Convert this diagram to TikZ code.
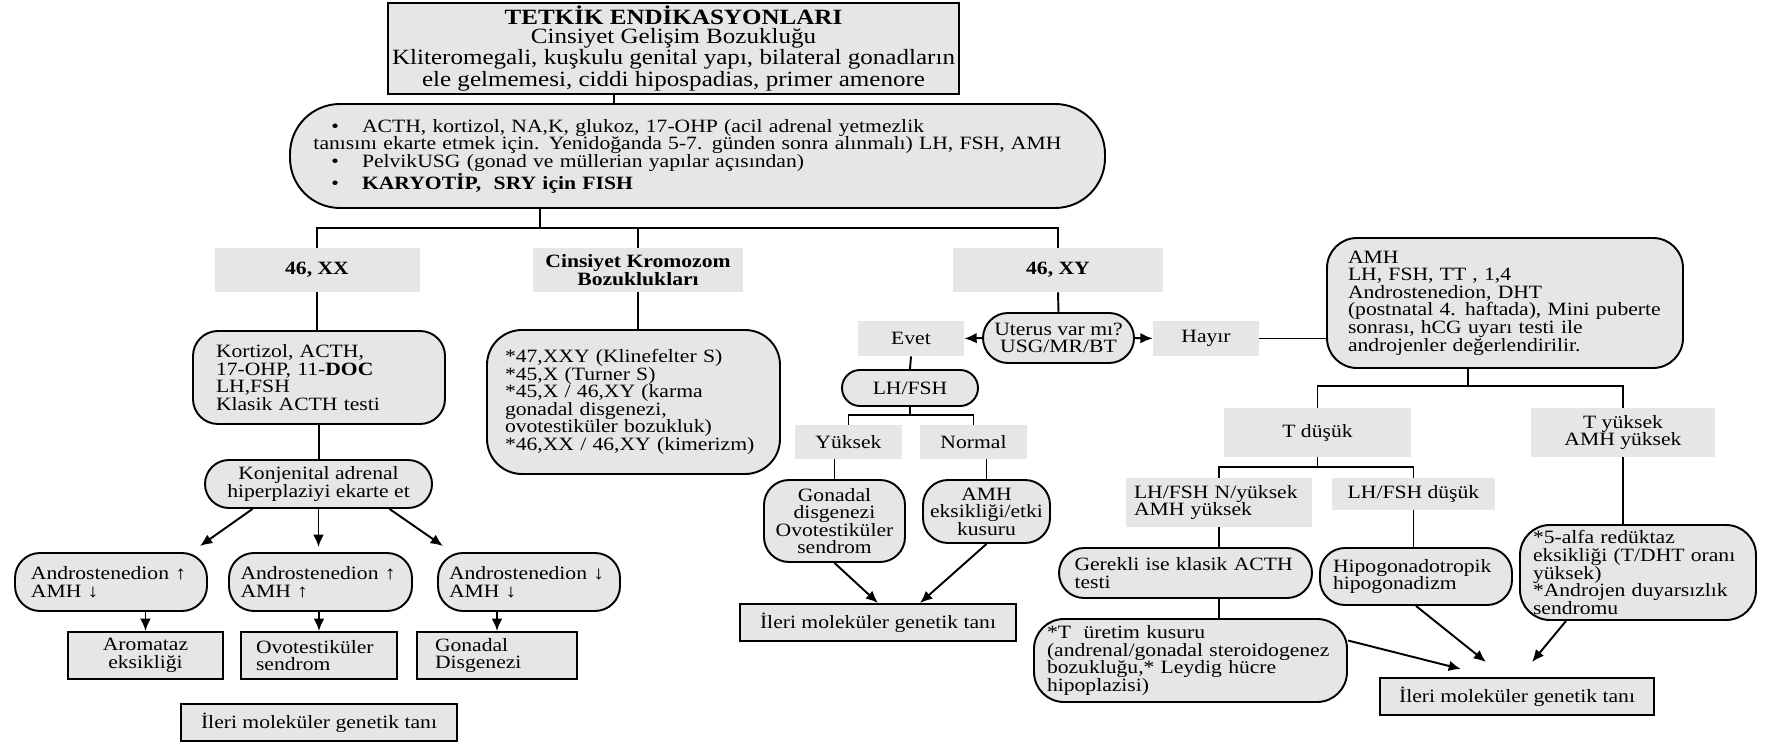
\documentclass[tikz,border=0pt]{standalone}
\usepackage{fontspec}
\setmainfont{Liberation Serif}[FakeStretch=1.15]
\usepackage{tikz}
\usetikzlibrary{arrows.meta,calc}
\definecolor{boxgray}{HTML}{E6E6E6}

\begin{document}
\begin{tikzpicture}[x=0.02cm, y=-0.02cm]
        \tikzset{txt/.style = {font=\fontsize{10.7}{10}\selectfont, inner sep=0pt},
          wh/.code 2 args = {\pgfmathsetmacro\whw{#1*0.02}\pgfmathsetmacro\whh{#2*0.02}%
            \edef\whset{\noexpand\tikzset{minimum width=\whw cm, minimum height=\whh cm}}\whset},
          tw/.code = {\pgfmathsetmacro\twv{#1*0.02}%
            \edef\twset{\noexpand\tikzset{align=left, text width=\twv cm}}\twset},
          lbl/.style = {txt, fill=boxgray},
          rbox/.style = {txt, draw, fill=boxgray, line width=1.1pt},
          rnd/.style = {rbox, rounded corners=#1},
          conn/.style = {line width=1.1pt},
          arr/.style = {conn, -{Latex[length=7pt,width=6pt]}}}
        \useasboundingbox (0,0) rectangle (1765,742);
        % top
        \node[rbox, wh={571}{91}, align=center, font=\fontsize{12.4}{10.4}\selectfont] (top) at (673.5,48.5)
          {\textbf{TETKİK ENDİKASYONLARI}\\Cinsiyet Gelişim Bozukluğu\\Kliteromegali, kuşkulu genital yapı, bilateral gonadların\\ele gelmemesi, ciddi hipospadias, primer amenore};
        \node[rnd=1cm, wh={815}{104}, tw=768] (tests) at (697.5,156)
          {\hspace*{0.36cm}•\hspace{0.46cm}ACTH, kortizol, NA,K, glukoz, 17-OHP (acil adrenal yetmezlik\\tanısını ekarte etmek için. Yenidoğanda 5-7. günden sonra alınmalı) LH, FSH, AMH\\\hspace*{0.36cm}•\hspace{0.46cm}PelvikUSG (gonad ve müllerian yapılar açısından)\\\hspace*{0.36cm}•\hspace{0.46cm}\textbf{KARYOTİP,\ \ SRY için FISH}};
        \node[lbl, wh={205}{44}] (xx) at (317,270) {\textbf{46, XX}};
        \node[lbl, wh={210}{44}, align=center] (ksk) at (638,270) {\textbf{Cinsiyet Kromozom}\\\textbf{Bozuklukları}};
        \node[lbl, wh={210}{44}] (xy) at (1058,270) {\textbf{46, XY}};
        % 46,XX
        \node[rnd=0.5cm, wh={252}{93}, tw=206] (kort) at (319,377.5) {Kortizol, ACTH,\\17-OHP, 11-\textbf{DOC}\\LH,FSH\\Klasik ACTH testi};
        \node[rnd=0.48cm, wh={227}{48}, align=center] (kah) at (318.5,484) {Konjenital adrenal\\hiperplaziyi ekarte et};
        \node[rnd=0.5cm, wh={192}{58}, tw=160] (a1) at (111,582) {Androstenedion ↑\\AMH ↓};
        \node[rnd=0.5cm, wh={183}{58}, tw=160] (a2) at (320.5,582) {Androstenedion ↑\\AMH ↑};
        \node[rnd=0.5cm, wh={182}{58}, tw=160] (a3) at (529,582) {Androstenedion ↓\\AMH ↓};
        \node[rbox, wh={155}{47}, align=center] (r1) at (145.5,655.5) {Aromataz\\eksikliği};
        \node[rbox, wh={156}{47}, tw=126] (r2) at (319,655.5) {Ovotestiküler\\sendrom};
        \node[rbox, wh={160}{47}, tw=124] (r3) at (497,655.5) {Gonadal\\Disgenezi};
        \node[rbox, wh={276}{37}] (ileri1) at (319,722.5) {İleri moleküler genetik tanı};
        % kromozom
        \node[rnd=0.7cm, wh={293}{144}, tw=257] (kskd) at (633.5,402)
          {*47,XXY (Klinefelter S)\\{}*45,X (Turner S)\\{}*45,X / 46,XY (karma\\gonadal disgenezi,\\ovotestiküler bozukluk)\\{}*46,XX / 46,XY (kimerizm)};
        % 46,XY
        \node[rnd=0.5cm, wh={151}{50}, align=center] (ut) at (1058.5,338) {Uterus var mı?\\USG/MR/BT};
        \node[lbl, wh={106}{35}] (evet) at (911,338.5) {Evet};
        \node[lbl, wh={106}{35}] (hayir) at (1206,338.5) {Hayır};
        \node[rnd=0.36cm, wh={136}{36}] (lhfsh) at (910,388) {LH/FSH};
        \node[lbl, wh={107}{34}] (yuk) at (848.5,442) {Yüksek};
        \node[lbl, wh={107}{34}] (nor) at (973.5,442) {Normal};
        \node[rnd=0.5cm, wh={141}{82}, align=center] (gon) at (834.5,521) {Gonadal\\disgenezi\\Ovotestiküler\\sendrom};
        \node[rnd=0.5cm, wh={127}{63}, align=center] (amhe) at (986.5,511.5) {AMH\\eksikliği/etki\\kusuru};
        \node[rbox, wh={276}{37}] (ileri2) at (878,622.5) {İleri moleküler genetik tanı};
        % uterus yok
        \node[rnd=0.6cm, wh={356}{130}, tw=314] (amh) at (1505,303)
          {AMH\\LH, FSH, TT , 1,4\\Androstenedion, DHT\\(postnatal 4. haftada), Mini puberte\\sonrası, hCG uyarı testi ile\\androjenler değerlendirilir.};
        \node[lbl, wh={187}{49}] (tdus) at (1317.5,432.5) {T düşük};
        \node[lbl, wh={184}{49}, align=center] (tyuk) at (1623,432.5) {T yüksek\\AMH yüksek};
        \node[lbl, wh={186}{49}, tw=170] (lhn) at (1219,502.5) {LH/FSH N/yüksek\\AMH yüksek};
        \node[lbl, wh={163}{32}] (lhd) at (1413.5,494) {LH/FSH düşük};
        \node[rnd=0.5cm, wh={253}{50}, tw=222] (ger) at (1185.5,573) {Gerekli ise klasik ACTH\\testi};
        \node[rnd=0.5cm, wh={192}{57}, tw=166] (hipo) at (1416,576.5) {Hipogonadotropik\\hipogonadizm};
        \node[rnd=0.6cm, wh={313}{83}, tw=287] (tpr) at (1190.5,660.5)
          {*T\ \ üretim kusuru\\(andrenal/gonadal steroidogenez\\bozukluğu,* Leydig hücre\\hipoplazisi)};
        \node[rnd=0.6cm, wh={236}{95}, tw=210] (alfa) at (1638,572.5)
          {*5-alfa redüktaz\\eksikliği (T/DHT oranı\\yüksek)\\{}*Androjen duyarsızlık\\sendromu};
        \node[rbox, wh={274}{37}] (ileri3) at (1517,696.5) {İleri moleküler genetik tanı};
        % connectors
        \coordinate (t0) at (614,0);
        \draw[conn] (t0 |- top.south) -- (t0 |- tests.north);
        \coordinate (b0) at (540,228);
        \draw[conn] (b0 |- tests.south) -- (b0);
        \draw[conn] (xx.north) |- (b0) -| (xy.north);
        \draw[conn] (ksk.north) -- (ksk.north |- b0);
        \draw[conn] (xx.south) -- (xx.south |- kort.north);
        \draw[conn] (kort.south) -- (kort.south |- kah.north);
        \draw[arr] ($(kah.south)+(-66,0)$) -- ($(a1.north)+(89,-6)$);
        \draw[arr] (kah.south) -- ($(kah.south |- a2.north)+(0,-5)$);
        \draw[arr] ($(kah.south)+(71,0)$) -- ($(a3.north)+(-86,-6)$);
        \draw[arr] (r1.north |- a1.south) -- (r1.north);
        \draw[arr] (r2.north |- a2.south) -- (r2.north);
        \draw[arr] (r3.north |- a3.south) -- (r3.north);
        \draw[conn] (ksk.south) -- (ksk.south |- kskd.north);
        \draw[conn] (xy.south) -- (ut.north);
        \draw[arr] (ut.west) -- (evet.east);
        \draw[arr] (ut.east) -- (hayir.west);
        \draw[conn] (hayir.east) -- (hayir.east -| amh.west);
        \draw[conn] (evet.south) -- (lhfsh.north);
        \coordinate (lb) at (910,415);
        \draw[conn] (lhfsh.south) -- (lb);
        \draw[conn] (yuk.north) |- (lb) -| (nor.north);
        \draw[conn] (gon.north |- yuk.south) -- (gon.north);
        \draw[conn] (amhe.north |- nor.south) -- (amhe.north);
        \draw[arr] (gon.south) -- (ileri2.north);
        \draw[arr] (amhe.south) -- ($(ileri2.north)+(42,0)$);
        \coordinate (rb) at (1468,386);
        \draw[conn] (rb |- amh.south) -- (rb);
        \draw[conn] (tdus.north) |- (rb) -| (tyuk.north);
        \coordinate (tb) at (1317.5,467);
        \draw[conn] (tdus.south) -- (tb);
        \draw[conn] (lhn.north) |- (tb) -| (lhd.north);
        \draw[conn] (lhn.south) -- (lhn.south |- ger.north);
        \draw[conn] (lhd.south) -- (lhd.south |- hipo.north);
        \draw[conn] (lhn.south |- ger.south) -- (lhn.south |- tpr.north);
        \draw[conn] (tyuk.south) -- (tyuk.south |- alfa.north);
        \draw[arr] ($(tpr.east)+(0,-20)$) -- ($(ileri3.north)+(-56,-8)$);
        \draw[arr] (hipo.south) -- ($(ileri3.north)+(-31,-15)$);
        \draw[arr] ($(alfa.south)+(-72,0)$) -- ($(ileri3.north)+(15,-15)$);
\end{tikzpicture}
\end{document}
